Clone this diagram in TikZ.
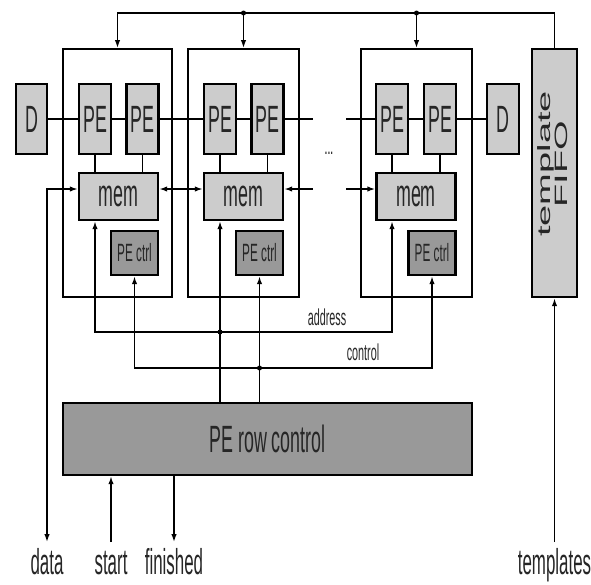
\documentclass[tikz,border=0pt]{standalone}
\usepackage{graphicx}
\usepackage{fontspec}
\setmainfont{Liberation Sans}
\newfontfamily\nf[FakeStretch=0.47]{Liberation Sans}
\usetikzlibrary{arrows.meta,calc}
\definecolor{lgray}{HTML}{CCCCCC}
\definecolor{dgray}{HTML}{999999}
\tikzset{
  grp/.style={draw, line width=1.8pt, inner sep=0pt, minimum height=248pt},
  lbox/.style={draw, fill=lgray, line width=2.4pt, inner sep=0pt, text=black!85,
    font=\nf\fontsize{38}{38}\selectfont},
  pebox/.style={lbox, minimum width=32pt, minimum height=70pt},
  membox/.style={lbox, minimum width=79pt, minimum height=47pt},
  ctrlbox/.style={draw, fill=dgray, line width=2.4pt, inner sep=0pt, text=black!85,
    minimum width=47pt, minimum height=44pt, font=\nf\fontsize{25}{25}\selectfont},
  rowbox/.style={draw, fill=dgray, line width=2.4pt, inner sep=0pt, text=black!85,
    minimum width=409pt, minimum height=72pt, font=\nf\fontsize{38}{38}\selectfont},
  lab/.style={anchor=base, inner sep=4pt, text height=27pt, text depth=0pt, text=black!85,
    font=\nf\fontsize{36}{36}\selectfont},
  buslab/.style={inner sep=0pt, text=black!85, font=\nf\fontsize{23}{23}\selectfont},
  jdot/.style={fill=black}
}
\begin{document}
\begin{tikzpicture}[x=1pt,y=-1pt,line width=1.8pt,>={Latex[length=8pt,width=5.5pt]}]
\useasboundingbox (0,0) rectangle (591,584);
\coordinate (topy) at (0,13);
\coordinate (mrow) at (0,189);
\coordinate (addry) at (0,332);
\coordinate (ctrly) at (0,368);
\coordinate (gapL) at (313,119);
\coordinate (gapR) at (346,119);
\coordinate (gapLm) at (313,189);
\coordinate (gapRm) at (346,189);

% group boxes
\node[grp, minimum width=109pt] (G1) at (117.5,173) {};
\node[grp, minimum width=111pt] (G2) at (243.5,173) {};
\node[grp, minimum width=111pt] (G3) at (416.5,173) {};

% D and PE boxes
\node[lbox, minimum width=31pt, minimum height=70pt] (DL) at (31.5,119) {D};
\node[pebox] (PE1) at (95,119) {PE};
\node[pebox] (PE2) at (142.5,119) {PE};
\node[pebox] (PE3) at (220,119) {PE};
\node[pebox] (PE4) at (267.5,119) {PE};
\node[pebox] (PE5) at (392,119) {PE};
\node[pebox] (PE6) at (440,119) {PE};
\node[lbox, minimum width=32pt, minimum height=70pt] (DR) at (503,119) {D};

% mem boxes
\node[membox] (mem1) at (118.5,196.5) {\raisebox{-4pt}{mem}};
\node[membox] (mem2) at (243.5,196.5) {\raisebox{-4pt}{mem}};
\node[membox] (mem3) at (416,196.5) {\raisebox{-4pt}{mem}};

% PE ctrl boxes
\node[ctrlbox] (ctrl1) at (134.5,253) {PE ctrl};
\node[ctrlbox] (ctrl2) at (259.5,253) {PE ctrl};
\node[ctrlbox] (ctrl3) at (432,253) {PE ctrl};

% template FIFO
\node[lbox, minimum width=45pt, minimum height=248pt] (FIFO) at (554.5,173) {};
\node[rotate=90, inner sep=0pt, text=black!85, font=\fontsize{38}{36}\selectfont] (fifotxt) at (555,164)
  {\scalebox{1}[0.47]{\begin{tabular}{@{}c@{}}template\\FIFO\end{tabular}}};

% PE row control
\node[rowbox] (rowctl) at (267.5,439) {PE row control};

% ellipsis
\node[inner sep=0pt, font=\nf\fontsize{22}{22}\selectfont] (dots) at (329,153) {...};

% bottom labels
\node[lab] (ldata) at (47,574) {data};
\node[lab] (lstart) at (111,574) {start};
\node[lab] (lfin) at (174,574) {finished};
\node[lab] (ltempl) at (554.5,574) {templates};

% bus labels
\node[buslab] (laddr) at (327,317) {address};
\node[buslab] (lctrl) at (363,352) {control};

% PE chain
\draw (DL) -- (PE1);
\draw (PE1) -- (PE2);
\draw (PE2) -- (PE3);
\draw (PE3) -- (PE4);
\draw (PE4) -- (gapL);
\draw (gapR) -- (PE5);
\draw (PE5) -- (PE6);
\draw (PE6) -- (DR);

% PE to mem
\draw (PE1.south) -- (PE1.south |- mem1.north);
\draw (PE2.south) -- (PE2.south |- mem1.north);
\draw (PE3.south) -- (PE3.south |- mem2.north);
\draw (PE4.south) -- (PE4.south |- mem2.north);
\draw (PE5.south) -- (PE5.south |- mem3.north);
\draw (PE6.south) -- (PE6.south |- mem3.north);

% mem row
\draw[<->] (ldata.north) |- (mem1.west |- mrow);
\draw[<->] (mem1.east |- mrow) -- (mem2.west |- mrow);
\draw[<-] (mem2.east |- mrow) -- (gapLm);
\draw[->] (gapRm) -- (mem3.west |- mrow);

% top bus
\draw[->] (FIFO.north) -- (FIFO.north |- topy) -- (G1.north |- topy) -- (G1.north);
\draw[->] (G2.north |- topy) -- (G2.north);
\draw[->] (G3.north |- topy) -- (G3.north);
\fill[jdot] (G2.north |- topy) circle (2.5pt);
\fill[jdot] (G3.north |- topy) circle (2.5pt);

% address bus
\draw[<->] (mem1.south -| PE1) -- (addry -| PE1) -- (addry -| PE5) -- (mem3.south -| PE5);
\draw[->] (rowctl.north -| PE3) -- (mem2.south -| PE3);
\fill[jdot] (addry -| PE3) circle (2.5pt);

% control bus
\draw[<->] (ctrl1.south) -- (ctrly -| ctrl1) -- (ctrly -| ctrl3) -- (ctrl3.south);
\draw[->] (rowctl.north -| ctrl2) -- (ctrl2.south);
\fill[jdot] (ctrly -| ctrl2) circle (2.5pt);

% bottom connectors
\draw[->] (lstart.north) -- (rowctl.south -| lstart.north);
\draw[->] (rowctl.south -| lfin.north) -- (lfin.north);
\draw[->] (ltempl.north) -- (FIFO.south);
\end{tikzpicture}
\end{document}
